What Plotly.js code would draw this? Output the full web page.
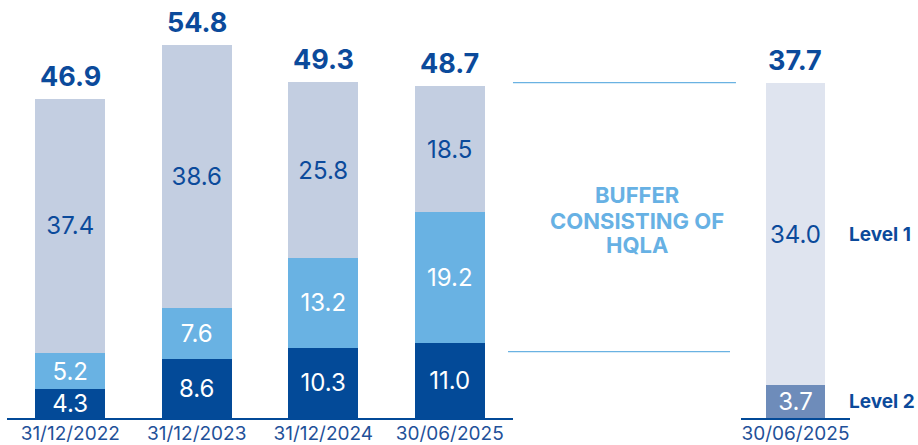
<!DOCTYPE html>
<html>
<head>
<meta charset="utf-8">
<script src="https://cdn.plot.ly/plotly-3.0.1.min.js"></script>
<style>html,body{margin:0;padding:0;background:#fff;}#chart{width:918px;height:445px;}</style>
</head>
<body>
<div id="chart"></div>
<script>
const categories = ['31/12/2022', '31/12/2023', '31/12/2024', '30/06/2025'];
const darkVals = [4.3, 8.6, 10.3, 11.0];
const lightVals = [5.2, 7.6, 13.2, 19.2];
const greyVals = [37.4, 38.6, 25.8, 18.5];
const totals = [46.9, 54.8, 49.3, 48.7];

const hqlaCategory = ['30/06/2025'];
const level2Vals = [3.7];
const level1Vals = [34.0];
const hqlaTotal = [37.7];
const levelLabels = ['Level 1', 'Level 2'];
const bufferLines = ['BUFFER', 'CONSISTING OF', 'HQLA'];

const FONT = 'Inter, "Open Sans", sans-serif';
const DARK = '#034a98';
const LIGHT = '#69b2e3';
const GREY = '#c3cee1';
const L1 = '#dfe4ef';
const L2 = '#6e8cba';
const TEXTBLUE = '#0b4a9b';

function barTrace(y, color, textColor, xa, ya, x) {
  return {
    type: 'bar', x: x, y: y, xaxis: xa, yaxis: ya,
    marker: {color: color, line: {width: 0}},
    text: y.map(v => v.toFixed(1)), textposition: 'inside', insidetextanchor: 'middle',
    constraintext: 'none',
    textfont: {family: FONT, size: 24, color: textColor},
    hoverinfo: 'skip', showlegend: false
  };
}

const data = [
  barTrace(darkVals, DARK, '#ffffff', 'x', 'y', categories),
  barTrace(lightVals, LIGHT, '#ffffff', 'x', 'y', categories),
  barTrace(greyVals, GREY, TEXTBLUE, 'x', 'y', categories),
  barTrace(level2Vals, L2, '#ffffff', 'x2', 'y2', hqlaCategory),
  barTrace(level1Vals, L1, TEXTBLUE, 'x2', 'y2', hqlaCategory)
];

const annotations = [];
categories.forEach((c, i) => {
  annotations.push({x: c, y: totals[i], xref: 'x', yref: 'y', yanchor: 'bottom', yshift: 4,
    showarrow: false, text: '<b>' + totals[i].toFixed(1) + '</b>',
    font: {family: FONT, size: 27, color: TEXTBLUE}});
});
annotations.push({x: hqlaCategory[0], y: hqlaTotal[0], xref: 'x2', yref: 'y2', yanchor: 'bottom', yshift: 4,
  showarrow: false, text: '<b>' + hqlaTotal[0].toFixed(1) + '</b>',
  font: {family: FONT, size: 27, color: TEXTBLUE}});

const bufferY = [0.5335, 0.4713, 0.4139];
bufferLines.forEach((t, i) => {
  annotations.push({x: 0.694, y: bufferY[i], xref: 'paper', yref: 'paper', xanchor: 'center', yanchor: 'middle',
    showarrow: false, text: '<b>' + t + '</b>', font: {family: FONT, size: 22, color: '#67b1e4'}});
});

const levelY = [level2Vals[0] + level1Vals[0] / 2, level2Vals[0] / 2];
levelLabels.forEach((t, i) => {
  annotations.push({x: 0.9222, y: levelY[i], xref: 'paper', yref: 'y2', xanchor: 'left', yanchor: 'middle',
    showarrow: false, text: '<b>' + t + '</b>', font: {family: FONT, size: 19, color: TEXTBLUE}});
});

const axisCommon = {
  showgrid: false, zeroline: false, showline: true, linecolor: DARK, linewidth: 2,
  ticks: '', ticklabelstandoff: -3,
  tickfont: {family: FONT, size: 19, color: '#1f5199'}, fixedrange: true
};

const layout = {
  width: 918, height: 445,
  margin: {l: 0, r: 0, t: 0, b: 27, pad: 0},
  paper_bgcolor: '#ffffff', plot_bgcolor: '#ffffff',
  barmode: 'stack', bargap: 0.45,
  xaxis: Object.assign({}, axisCommon, {domain: [0.00763, 0.5588], anchor: 'y', type: 'category', range: [-0.5, 3.5]}),
  yaxis: {domain: [0, 1], range: [0, 61.38], visible: false, anchor: 'x'},
  xaxis2: Object.assign({}, axisCommon, {domain: [0.8072, 0.9259], anchor: 'y2', type: 'category', range: [-0.5, 0.5]}),
  yaxis2: {domain: [0, 1], range: [0, 47.04], visible: false, anchor: 'x2'},
  annotations: annotations,
  shapes: [
    {type: 'line', xref: 'paper', yref: 'paper', x0: 0.5588, x1: 0.8017, y0: 0.8022, y1: 0.8022, line: {color: '#6ab2e2', width: 1.3}},
    {type: 'line', xref: 'paper', yref: 'paper', x0: 0.5534, x1: 0.7952, y0: 0.1586, y1: 0.1586, line: {color: '#6ab2e2', width: 1.3}}
  ],
  font: {family: FONT}
};

Plotly.newPlot('chart', data, layout, {displayModeBar: false, staticPlot: true});
</script>
</body>
</html>
